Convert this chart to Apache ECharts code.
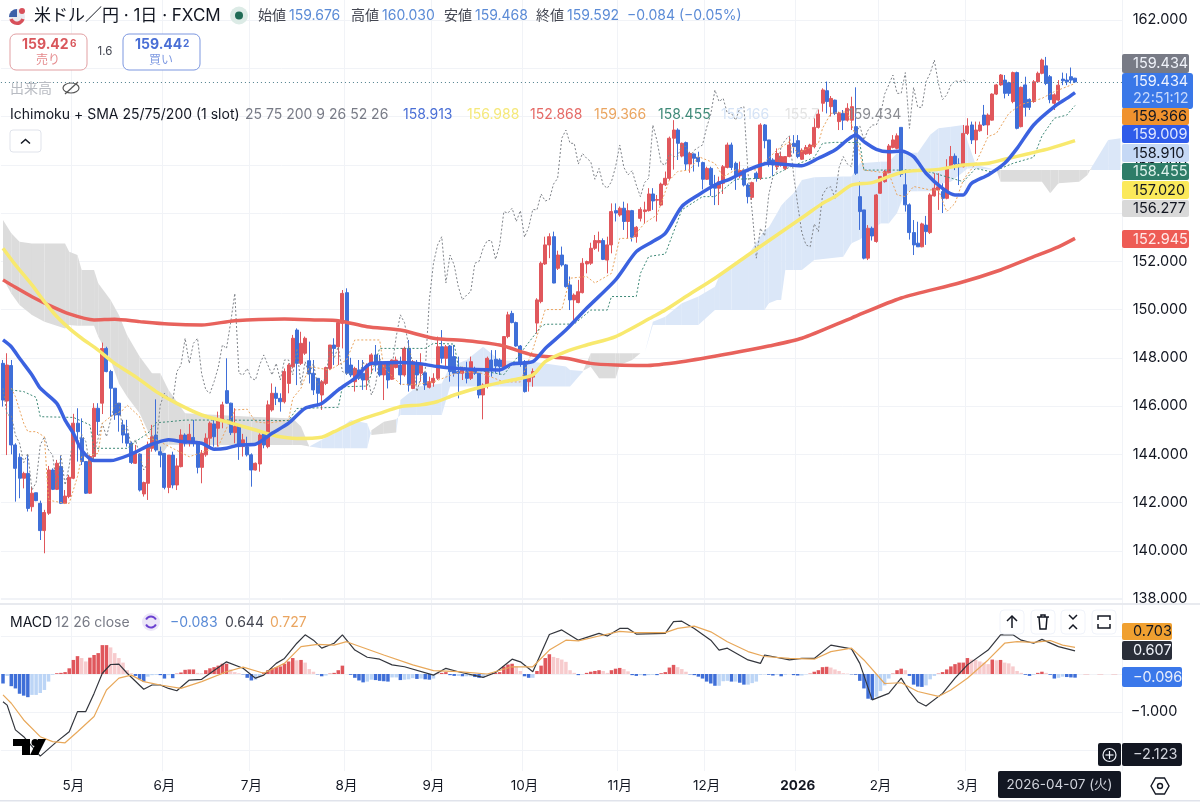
<!DOCTYPE html>
<html>
<head>
<meta charset="utf-8">
<title>米ドル／円</title>
<script src="https://cdn.jsdelivr.net/npm/echarts@6/dist/echarts.min.js"></script>
<style>
html,body{margin:0;padding:0;background:#fff;}
#main{width:1200px;height:803px;}
</style>
</head>
<body>
<div id="main"></div>
<script>
// 日足 (読み取り値)
var opens = [147.77,146.21,147.68,144.39,143.88,143.01,143.21,141.83,142.41,141.97,
140.84,141.56,143.35,142.55,143.49,141.97,142.25,143.01,145.29,144.67,
143.70,142.39,143.91,145.91,146.12,148.39,147.43,146.74,146.12,145.22,
144.85,144.46,143.63,144.01,142.36,142.80,144.25,144.80,144.11,144.04,
142.63,143.97,142.73,143.49,144.80,144.53,144.70,144.53,143.46,143.98,
144.67,145.26,145.08,145.43,146.64,146.12,144.90,145.18,144.32,144.32,
143.98,143.35,143.60,144.87,144.32,145.84,146.53,146.32,146.18,146.94,
147.63,149.15,147.77,148.19,147.88,147.36,147.15,146.46,146.94,147.56,
148.53,148.46,149.43,150.70,147.70,147.01,147.5,147.36,147.08,147.70,
148.12,147.84,147.29,147.77,147.11,147.6,147.70,147.29,148.39,146.73,
147.77,147.36,147.38,146.78,146.97,147.15,148.46,147.98,148.49,148.05,
147.43,147.36,147.43,147.15,147.56,147.36,146.46,146.87,147.91,147.94,
147.91,147.56,148.88,149.84,149.46,148.49,147.84,147.01,147.2,149.44,
150.33,151.89,152.68,153.02,151.71,152.26,151.85,151.02,150.4,150.29,
150.7,151.89,151.92,152.54,152.77,152.86,152.05,152.68,154.1,153.92,
154.2,153.65,154.1,153.02,153.78,154.06,154.1,154.79,154.53,154.33,
155.17,155.44,157.1,157.44,156.36,156.92,156.03,156.45,156.31,156.09,
155.4,155.85,155.16,155.03,155.23,155.89,156.82,156.06,155.54,155.78,
155.16,154.65,155.65,155.44,157.65,157.03,156.2,155.92,155.99,155.85,
156.34,156.89,157.0,156.23,156.45,156.47,156.75,157.55,158.55,159.07,
158.41,158.68,157.79,158.13,157.85,157.85,157.58,154.68,154.13,152.13,
153.37,152.82,154.82,155.3,155.67,156.72,156.68,157.55,155.17,154.34,
153.19,152.75,152.6,153.5,153.19,154.71,154.95,154.89,154.61,155.89,
156.36,156.03,155.92,157.3,157.65,157.03,157.41,158.06,157.65,157.85,
158.93,159.31,159.51,159.4,158.62,159.82,157.58,159.31,158.71,158.62,
159.44,159.79,160.1,159.65,158.55,158.68,159.55,159.51,159.65,159.59];
var highs = [147.91,148.19,147.91,144.46,144.04,143.28,143.97,142.66,142.41,142.08,
141.70,143.52,143.42,143.77,143.93,142.52,143.15,145.68,145.91,145.49,
143.70,143.97,146.12,146.12,148.63,148.46,147.50,146.74,146.12,145.43,
145.43,144.53,144.39,144.04,142.87,144.53,145.22,146.28,144.32,144.04,
143.97,144.11,143.84,145.04,144.87,145.26,145.43,144.53,144.18,144.87,
145.36,145.43,145.77,146.18,147.98,146.14,145.91,145.22,144.85,144.73,
144.04,143.66,144.87,144.94,146.23,146.94,146.8,146.53,147.56,147.77,
148.95,149.22,149.08,148.88,148.67,147.91,147.15,147.08,147.63,148.53,
148.81,149.5,150.81,150.88,148.0,147.63,147.91,147.91,147.77,148.19,
148.53,148.12,147.84,147.84,147.94,148.05,148.05,148.46,148.74,147.91,
147.91,148.19,147.43,147.22,147.36,148.88,149.15,148.53,148.53,148.53,
148.05,147.63,147.84,148.05,147.63,147.36,146.94,148.05,148.32,148.32,
147.98,148.9,149.91,149.95,149.5,148.53,147.91,147.29,147.56,150.47,
151.99,153.02,153.16,153.23,152.44,152.61,151.89,151.37,150.67,151.23,
152.13,152.03,152.77,153.09,153.23,152.95,153.02,154.4,154.4,154.27,
154.47,154.4,154.13,153.46,154.24,154.47,155.03,155.03,154.75,155.26,
155.72,157.17,157.85,157.51,156.92,156.96,156.54,156.47,156.54,156.13,
155.92,155.92,155.58,155.51,155.99,156.92,156.92,156.13,156.13,155.85,
155.23,155.3,155.72,157.72,157.69,157.03,156.27,156.68,156.54,156.36,
157.17,157.23,157.23,156.68,156.82,156.87,157.93,158.3,159.17,159.45,
158.85,158.7,158.2,158.27,158.55,158.82,159.21,155.3,154.13,153.5,
153.44,154.79,155.54,155.79,156.86,157.23,157.3,157.55,155.8,154.4,
153.71,153.64,153.6,153.88,154.82,155.65,155.65,155.23,156.23,156.78,
156.47,156.27,157.65,157.93,157.79,157.79,157.79,158.48,158.13,158.96,
159.35,159.76,159.72,159.44,159.86,159.86,159.24,159.65,158.75,159.51,
159.86,160.4,160.47,159.72,158.96,159.51,159.82,159.79,160.03,159.6];
var lows = [145.98,143.97,144.0,142.04,142.18,142.59,141.63,141.63,142.06,140.45,
139.90,141.49,142.52,142.52,141.94,141.94,142.18,142.97,143.70,143.56,
142.36,142.36,143.70,144.80,145.67,147.40,145.56,145.43,144.94,144.46,
144.32,143.60,143.60,142.46,142.25,142.11,144.11,144.11,143.46,142.55,
142.39,142.59,142.52,143.46,144.32,144.32,144.32,143.21,142.80,143.90,
144.32,144.32,144.32,145.08,146.09,144.80,144.46,143.77,143.91,143.91,
142.66,143.33,143.28,144.25,144.25,145.77,146.04,145.77,146.11,146.53,
147.56,146.87,147.70,148.12,146.94,146.46,145.98,145.84,146.87,147.50,
147.70,147.70,148.39,147.29,147.2,146.60,147.08,146.67,146.67,147.36,
147.43,147.22,146.25,146.73,147.08,147.56,146.87,147.22,146.60,146.70,
146.87,147.01,146.67,146.73,146.8,147.08,147.77,147.56,147.01,147.22,
146.32,147.08,146.94,147.08,147.29,146.32,145.45,146.73,147.22,147.36,
147.29,147.5,148.81,149.43,148.46,147.63,146.56,146.60,146.8,149.0,
150.26,151.85,152.13,151.09,151.64,151.78,150.91,149.98,149.43,150.26,
150.67,151.5,151.85,152.47,152.4,152.05,151.5,152.33,153.65,153.85,
153.3,152.95,152.82,152.77,153.65,153.57,154.06,154.13,153.65,154.29,
155.12,155.37,155.8,156.2,156.31,155.78,155.67,155.72,155.92,154.98,
155.37,154.71,154.33,154.33,154.79,155.85,155.78,154.96,155.44,155.1,
154.4,154.54,155.3,155.37,156.68,155.92,155.54,155.78,155.92,155.78,
156.31,156.47,156.27,156.2,156.41,156.41,156.68,157.5,158.2,158.13,
158.0,158.06,157.44,157.44,157.79,157.44,155.58,153.3,152.08,152.05,
152.86,152.77,154.79,155.26,155.65,156.68,156.64,155.5,154.06,152.9,
152.26,152.6,152.58,152.68,153.13,154.68,154.13,154.0,154.57,155.85,
155.78,155.16,155.89,157.23,156.86,156.45,157.37,157.61,157.23,157.83,
158.89,159.27,158.75,158.85,158.55,157.47,157.55,158.0,158.27,158.57,
159.4,159.75,159.3,158.55,158.27,158.62,159.3,159.3,159.37,159.39];
var closes = [146.25,147.70,144.39,143.42,143.01,143.21,141.76,142.39,142.08,140.84,
141.59,143.35,142.55,143.63,141.97,142.27,143.05,145.29,144.94,143.70,
142.39,143.91,145.91,145.36,148.39,147.43,146.74,145.63,145.63,144.80,
144.46,143.66,144.04,142.52,142.83,144.39,144.73,144.18,143.97,142.63,
143.97,142.73,143.52,144.80,144.46,144.83,144.53,143.46,144.04,144.67,
145.29,144.73,145.43,146.05,146.12,144.90,145.15,144.32,144.60,143.98,
143.35,143.63,144.80,144.39,146.05,146.53,146.32,146.18,147.43,147.70,
148.81,147.77,148.6,148.81,147.33,146.67,146.53,147.01,147.60,148.53,
148.39,149.46,150.67,147.36,147.29,147.56,147.15,147.08,147.7,148.12,
147.70,147.29,147.77,147.08,147.91,147.91,147.29,148.39,146.87,147.84,
147.29,147.77,146.87,147.01,147.15,148.46,147.98,148.46,147.43,147.36,
147.36,147.56,147.15,147.84,147.36,146.46,146.87,147.98,147.56,147.66,
147.63,148.88,149.78,149.46,148.49,147.77,146.60,147.24,147.43,150.4,
151.92,152.68,153.02,151.1,152.26,151.85,150.95,150.4,150.6,150.74,
151.92,151.99,152.54,152.86,152.86,152.08,152.68,154.06,154.0,154.2,
153.65,154.1,153.0,153.41,154.15,154.13,154.79,154.5,154.56,155.2,
155.44,157.1,157.44,156.89,156.89,156.03,156.47,156.27,156.13,155.4,
155.85,155.16,155.03,155.3,155.92,156.82,155.89,155.58,155.76,155.16,
154.68,155.26,155.44,157.65,157.0,156.06,155.99,156.47,156.34,156.34,
156.82,156.75,156.34,156.6,156.72,156.82,157.55,158.1,159.1,158.62,
158.75,158.13,158.13,157.85,158.34,158.41,155.65,154.06,152.13,153.37,
153.05,154.75,155.51,155.72,156.78,157.03,157.2,155.6,154.34,153.19,
152.68,152.6,153.55,153.23,154.75,155.03,155.09,154.61,155.89,156.34,
156.03,155.92,157.3,157.61,157.03,157.44,157.65,157.65,158.06,158.93,
159.31,159.72,158.96,158.96,159.82,157.51,159.21,158.38,158.38,159.44,
159.79,160.34,159.37,158.7,158.9,159.3,159.48,159.44,159.51,159.434];

// SMA [足番号, 価格]
var sma25 = [[0,148.74],[2,148.46],[4,147.98],[7,147.29],[9,146.74],[13,146.11],[15,145.42],[17,144.87],[19,144.18],[22,143.74],[26,143.74],[31,144.01],[35,144.35],[37,144.48],[40,144.6],[43,144.53],[48,144.46],[51,144.21],[54,144.25],[57,144.39],[61,144.42],[65,144.87],[69,145.29],[73,145.91],[77,146.11],[81,146.67],[85,147.15],[89,147.77],[96,147.81],[100,147.77],[105,147.64],[109,147.57],[114,147.52],[120,147.5],[123,147.75],[128,147.84],[131,148.39],[136,149.15],[141,150.05],[148,151.23],[153,152.4],[157,152.82],[160,153.16],[164,154.27],[168,154.75],[172,155.16],[176,155.44],[180,155.79],[185,156.06],[193,155.96],[197,156.27],[201,156.61],[204,157.03],[206,157.23],[208,156.96],[211,156.64],[214,156.54],[217,156.57],[220,156.34],[223,155.65],[227,155.02],[230,154.75],[232,154.75],[234,155.23],[238,155.58],[242,156.06],[245,156.68],[249,157.65],[254,158.41],[257,158.75],[259,158.99]];
var sma75 = [[0,152.54],[3,151.85],[7,151.02],[10,150.33],[13,149.71],[16,149.22],[19,148.81],[23,148.32],[27,147.77],[32,147.22],[37,146.6],[42,146.11],[48,145.63],[54,145.35],[61,145.01],[66,144.76],[71,144.66],[77,144.71],[80,144.94],[85,145.35],[91,145.7],[96,145.97],[101,146.05],[105,146.19],[109,146.46],[116,146.81],[123,147.08],[128,147.29],[131,147.84],[136,148.26],[141,148.53],[148,148.88],[157,149.7],[160,149.98],[165,150.54],[172,151.3],[180,152.26],[187,153.09],[194,153.92],[198,154.4],[201,154.68],[205,155.16],[210,155.26],[214,155.51],[218,155.72],[226,155.81],[232,155.99],[238,156.06],[242,156.23],[248,156.47],[253,156.68],[259,157.0]];
var sma200 = [[0,151.23],[3,150.92],[7,150.53],[11,150.19],[16,149.82],[22,149.57],[27,149.6],[33,149.5],[40,149.4],[48,149.36],[56,149.54],[68,149.61],[76,149.57],[81,149.54],[88,149.29],[96,149.15],[104,148.81],[112,148.71],[120,148.53],[128,148.12],[136,147.98],[142,147.77],[148,147.7],[155,147.68],[164,147.84],[176,148.19],[185,148.49],[193,148.81],[205,149.65],[217,150.48],[231,151.1],[241,151.64],[248,152.12],[255,152.6],[259,152.95]];

// 一目均衡表
var tenkan = [[2,146.74],[3,146.39],[5,145.29],[6,144.94],[8,144.94],[10,144.73],[11,142.1],[15,141.97],[16,141.97],[18,143.08],[19,143.9],[23,144.04],[24,145.29],[26,145.56],[29,145.84],[30,146.04],[33,145.56],[35,144.66],[37,144.6],[41,144.25],[45,143.9],[51,144.25],[52,144.32],[56,145.84],[59,145.87],[61,145.35],[64,145.29],[69,145.42],[70,146.32],[72,146.74],[74,147.63],[79,147.5],[83,147.91],[85,148.74],[91,148.74],[92,147.6],[96,146.9],[100,146.9],[104,147.0],[110,147.4],[115,147.4],[121,147.0],[125,147.0],[128,148.34],[131,150.0],[135,150.0],[137,151.3],[141,151.37],[143,151.1],[147,151.5],[149,152.95],[152,152.95],[155,153.58],[158,153.92],[161,155.37],[163,155.72],[166,155.79],[168,156.34],[172,156.06],[174,155.5],[177,155.79],[182,155.79],[187,156.61],[190,156.96],[192,156.47],[197,156.89],[198,157.51],[200,158.13],[204,158.2],[206,157.17],[208,155.78],[214,155.65],[216,154.75],[218,154.68],[220,155.1],[224,154.96],[226,154.96],[228,154.06],[230,154.4],[232,155.37],[235,156.06],[238,157.17],[240,157.3],[243,158.13],[246,158.5],[251,158.75],[254,159.03],[259,159.37]];
var kijun = [[2,146.67],[5,146.6],[8,146.36],[9,145.56],[17,145.53],[21,145.22],[22,144.25],[30,144.25],[32,144.53],[35,144.87],[37,145.31],[40,145.35],[44,145.42],[54,145.42],[69,145.4],[71,145.9],[81,145.95],[82,146.8],[88,146.83],[91,148.39],[102,148.39],[104,148.6],[109,148.57],[110,147.63],[121,147.3],[130,149.3],[131,149.39],[138,149.4],[142,149.98],[146,149.98],[147,150.54],[153,150.54],[154,151.5],[156,152.2],[160,152.3],[164,154.13],[169,154.68],[172,154.68],[177,155.4],[185,155.45],[190,155.9],[196,156.3],[198,156.89],[201,156.93],[207,156.92],[208,155.78],[222,155.78],[225,155.65],[232,155.3],[235,155.85],[239,155.7],[244,156.06],[249,156.31],[251,157.19],[254,157.93],[257,158.06],[259,158.455]];
// 遅行スパンは終値を26本前へずらしたもの
var chikou = closes.slice(26);

// 雲 (足番号, 先行A, 先行B)
var cloudIdx = [0,2,4,7,10,15,16,18,19,22,23,26,28,30,33,36,38,40,44,60,70,72,74,77,80,82,84,88,89,92,95,96,100,106,108,112,116,120,128,136,137,140,142,144,148,149,152,154,155,157,160,164,168,172,173,176,180,184,185,187,188,189,191,193,196,203,205,207,212,214,216,218,221,224,226,229,232,233,235,240,241,251,253,255,260,262,263,267,270];
var cloudA = [151.29,150.67,150.19,149.77,149.5,149.22,149.36,149.33,149.33,149.33,148.88,147.91,146.94,146.39,145.7,144.6,143.9,144.4,144.39,144.39,144.39,144.39,144.32,144.6,144.87,145.15,145.42,145.29,144.8,144.85,144.9,146.25,146.8,146.94,147.64,147.91,148.46,147.9,147.84,147.64,147.5,147.45,147.63,147.15,147.15,147.7,147.91,148.19,148.19,149.5,149.7,150.26,150.54,150.95,151.37,151.78,152.26,153.3,153.4,153.99,154.3,154.5,154.82,155.37,155.48,155.51,155.51,156.06,156.13,156.13,156.48,156.5,156.5,157.24,157.51,157.58,157.65,157.0,156.0,155.78,155.3,155.3,154.82,155.23,155.3,155.58,155.9,157.03,157.1];
var cloudB = [153.71,153.16,152.81,152.74,152.74,152.74,152.4,152.26,151.64,151.64,151.09,150.4,149.77,148.94,148.05,147.36,147.36,146.67,145.7,145.56,145.49,145.15,144.32,144.25,144.25,144.25,144.25,144.25,145.0,145.35,145.45,145.63,145.63,145.63,146.81,146.81,146.81,146.81,146.81,146.81,146.81,147.4,148.19,148.19,148.19,148.19,148.19,148.19,148.19,149.36,149.36,149.36,149.36,149.98,149.98,149.98,149.98,149.98,150.26,150.4,150.4,151.64,151.64,151.64,152.05,152.19,152.75,152.9,153.57,153.57,154.0,154.9,154.9,154.9,155.2,155.3,155.7,155.85,155.85,155.78,155.78,155.78,155.78,155.78,155.78,155.78,155.78,155.78,155.78];

// MACD [足番号, 値]
var macdLine = [[0,-0.73],[1,-0.82],[3,-1.47],[5,-1.65],[9,-2.16],[13,-1.78],[16,-1.52],[18,-0.99],[20,-0.99],[22,-0.51],[24,0.02],[26,0.25],[28,0.26],[30,0.02],[34,-0.40],[36,-0.29],[38,-0.29],[40,-0.38],[42,-0.44],[45,-0.16],[48,-0.14],[54,0.32],[58,0.15],[61,-0.11],[63,-0.03],[66,0.28],[68,0.41],[71,0.81],[73,1.03],[75,0.89],[77,0.68],[80,0.81],[82,1.03],[85,0.63],[88,0.44],[91,0.39],[94,0.24],[97,0.19],[104,-0.03],[107,0.15],[110,0.06],[116,-0.09],[119,0.04],[123,0.39],[125,0.32],[128,0.06],[132,1.04],[135,1.16],[139,0.89],[144,1.07],[146,1.0],[149,1.2],[151,1.2],[153,1.05],[160,1.07],[162,1.38],[164,1.39],[167,1.2],[171,0.89],[173,0.63],[175,0.68],[180,0.37],[183,0.28],[184,0.5],[190,0.37],[193,0.41],[196,0.41],[200,0.76],[205,0.66],[207,0.28],[210,-0.68],[214,-0.51],[217,-0.11],[219,-0.46],[221,-0.73],[223,-0.84],[227,-0.51],[230,-0.11],[233,0.24],[238,0.63],[241,1.03],[244,1.03],[246,0.89],[249,0.81],[251,0.91],[255,0.72],[259,0.607]];
var macdSignal = [[0,-0.55],[2,-0.77],[5,-1.21],[9,-1.65],[12,-1.78],[15,-1.81],[18,-1.52],[22,-1.12],[25,-0.42],[28,-0.11],[31,-0.03],[34,-0.20],[38,-0.29],[43,-0.38],[48,-0.20],[54,0.06],[58,0.18],[63,0.02],[68,0.28],[72,0.72],[76,0.78],[80,0.76],[83,0.85],[92,0.50],[99,0.24],[104,0.09],[110,0.06],[117,0.0],[123,0.19],[128,0.19],[132,0.63],[136,0.89],[139,0.87],[144,1.0],[149,1.12],[153,1.09],[160,1.09],[163,1.2],[167,1.26],[171,1.11],[175,0.85],[180,0.59],[184,0.46],[190,0.41],[196,0.39],[200,0.59],[205,0.68],[208,0.37],[213,-0.25],[217,-0.23],[221,-0.46],[226,-0.59],[229,-0.42],[233,-0.11],[238,0.37],[242,0.81],[245,0.85],[249,0.83],[253,0.88],[256,0.76],[259,0.703]];
var macdHist = [-0.25,-0.05,-0.32,-0.38,-0.52,-0.57,-0.61,-0.55,-0.55,-0.5,-0.42,-0.2,-0.02,0.02,0.03,0.05,0.15,0.37,0.47,0.42,
0.33,0.43,0.5,0.55,0.76,0.76,0.7,0.55,0.42,0.3,0.1,0.02,-0.05,-0.14,-0.2,-0.07,-0.03,-0.02,-0.03,-0.12,
-0.03,-0.11,0.01,0.04,0.11,0.12,0.12,0.03,0.02,0.1,0.15,0.18,0.22,0.27,0.27,0.12,0.05,0.02,-0.01,-0.1,
-0.17,-0.15,-0.08,0.04,0.1,0.15,0.18,0.2,0.27,0.33,0.42,0.36,0.37,0.3,0.13,0.06,-0.01,-0.06,-0.04,0.01,
0.03,0.1,0.22,0.0,-0.02,-0.1,-0.17,-0.22,-0.2,-0.15,-0.16,-0.18,-0.19,-0.2,-0.09,-0.09,-0.16,-0.15,-0.14,-0.11,
-0.13,-0.12,-0.14,-0.15,-0.12,0.01,0.03,0.05,-0.03,-0.05,-0.05,-0.06,-0.06,-0.06,-0.08,-0.1,-0.09,-0.02,0.01,0.03,
0.05,0.2,0.25,0.27,0.2,0.08,-0.06,-0.1,-0.1,0.08,0.22,0.42,0.52,0.45,0.42,0.38,0.32,0.1,0.03,-0.03,
-0.01,0.03,0.06,0.08,0.1,0.08,0.03,0.1,0.14,0.16,0.13,0.07,-0.03,-0.05,-0.03,-0.04,-0.03,-0.02,-0.03,0.02,
0.05,0.17,0.24,0.18,0.13,0.06,-0.01,-0.03,-0.07,-0.12,-0.2,-0.25,-0.31,-0.31,-0.19,-0.18,-0.2,-0.2,-0.23,-0.28,
-0.28,-0.24,-0.2,-0.02,-0.01,-0.02,-0.04,-0.02,-0.06,-0.02,0.0,-0.03,-0.04,-0.04,-0.01,0.01,0.06,0.1,0.18,0.19,
0.17,0.12,0.08,0.02,0.01,-0.01,-0.02,-0.18,-0.38,-0.65,-0.68,-0.6,-0.45,-0.3,-0.12,0.01,0.1,0.14,0.1,-0.05,
-0.28,-0.33,-0.34,-0.3,-0.14,-0.05,0.01,0.05,0.12,0.2,0.26,0.3,0.3,0.42,0.38,0.37,0.33,0.3,0.26,0.38,
0.36,0.37,0.3,0.28,0.2,0.08,0.03,-0.02,-0.05,-0.02,0.03,0.06,0.03,-0.02,-0.12,-0.1,-0.07,-0.08,-0.09,-0.096];

// 軸ラベル
var barCount = 271;
var monthLabels = {17:'5月',39:'6月',60:'7月',83:'8月',104:'9月',126:'10月',149:'11月',170:'12月',192:'2026',212:'2月',233:'3月'};

var categories = [];
for (var n = 0; n < barCount; n++) {
    categories.push(monthLabels[n] || '');
}

var RED = '#e0575c', BLUE = '#3f6fd8', FONT = 'Inter, "Noto Sans CJK JP", sans-serif';

var candleData = opens.map(function (o, i) {
    return [o, closes[i], lows[i], highs[i]];
});
var cloudData = cloudIdx.map(function (x, i) {
    return [x, cloudA[i], cloudB[i]];
});
var chikouData = chikou.map(function (v, i) {
    return [i, v];
});
var histData = macdHist.map(function (v, i) {
    var prev = i > 0 ? macdHist[i - 1] : 0;
    var c = v >= 0 ? (v >= prev ? '#e0575c' : '#f7cbcd') : (v < prev ? '#3f6fd8' : '#bcd5f6');
    return { value: v, itemStyle: { color: c } };
});

function renderCloud(params, api) {
    var i = params.dataIndex;
    if (i >= cloudIdx.length - 1) return;
    var p = [
        api.coord([cloudIdx[i], cloudA[i]]),
        api.coord([cloudIdx[i + 1], cloudA[i + 1]]),
        api.coord([cloudIdx[i + 1], cloudB[i + 1]]),
        api.coord([cloudIdx[i], cloudB[i]])
    ];
    var bullish = cloudA[i] + cloudA[i + 1] > cloudB[i] + cloudB[i + 1];
    return { type: 'polygon', shape: { points: p }, style: { fill: bullish ? '#dbe7f8' : '#dcdcdc' } };
}

function thinLine(name, data, color) {
    return {
        name: name, type: 'line', data: data, showSymbol: false, silent: true, z: 3,
        lineStyle: { color: color, width: 1, type: [2, 2] }
    };
}
function smaLine(name, data, color) {
    return {
        name: name, type: 'line', data: data, showSymbol: false, silent: true, smooth: 0.25, z: 4,
        lineStyle: { color: color, width: 3.5 }
    };
}

// 画面パーツ
function txt(x, y, s, color, size, align, weight) {
    return {
        type: 'text', x: x, y: y, z: 21, silent: true,
        style: {
            text: s, fill: color, textAlign: align || 'left', textVerticalAlign: 'middle',
            align: align || 'left', verticalAlign: 'middle',
            font: (weight || 'normal') + ' ' + size + 'px ' + FONT
        }
    };
}
function box(x, y, w, h, fill, stroke, r) {
    return {
        type: 'rect', z: 20, silent: true, shape: { x: x, y: y, width: w, height: h, r: r === undefined ? 2 : r },
        style: { fill: fill, stroke: stroke || null, lineWidth: 1 }
    };
}
function poly(points, color, w) {
    return { type: 'polyline', z: 21, silent: true, shape: { points: points }, style: { stroke: color, fill: null, lineWidth: w || 1.5 } };
}
function pill(y, h, w, fill, s, color) {
    return [box(1122, y, w, h, fill), txt(1133, y + h / 2 + 0.5, s, color, 14.5)];
}

var g = [];
g.push(box(0, 771, 1200, 29, '#fff', null, 0)); g[0].z = 3;
g.push({ type: 'rect', z: 4, silent: true, shape: { x: 0, y: 603, width: 1200, height: 2 }, style: { fill: '#e8eaef' } });
g.push({ type: 'rect', z: 4, silent: true, shape: { x: 0, y: 800, width: 1200, height: 1.5 }, style: { fill: '#e0e3eb' } });

// タイトル行
g.push({ type: 'circle', z: 20, silent: true, shape: { cx: 17, cy: 17, r: 8 }, style: { fill: '#e9e9ef' } });
g.push({ type: 'sector', z: 20, silent: true, shape: { cx: 17, cy: 17, r: 8, r0: 0, startAngle: Math.PI, endAngle: Math.PI * 1.5 }, style: { fill: '#3c5fa8' } });
g.push({ type: 'sector', z: 20, silent: true, shape: { cx: 17, cy: 17, r: 8, r0: 4.5, startAngle: 0.1 * Math.PI, endAngle: 0.9 * Math.PI }, style: { fill: '#d8505a' } });
g.push({ type: 'circle', z: 21, silent: true, shape: { cx: 22, cy: 11, r: 3 }, style: { fill: '#d8505a' } });
g.push(txt(34, 15.5, '米ドル／円 · 1日 · FXCM', '#131722', 17));
g.push({ type: 'circle', z: 20, silent: true, shape: { cx: 239, cy: 15.5, r: 9 }, style: { fill: '#dcebe6' } });
g.push({ type: 'circle', z: 21, silent: true, shape: { cx: 239, cy: 15.5, r: 4 }, style: { fill: '#1f6b55' } });
var ohlcHead = [[258, '始値', 289, '159.676'], [351, '高値', 382, '160.030'], [444, '安値', 475, '159.468'], [536, '終値', 567, '159.592']];
ohlcHead.forEach(function (h) {
    g.push(txt(h[0], 15.5, h[1], '#434651', 14));
    g.push(txt(h[2], 15.5, h[3], '#5b8bd6', 14));
});
g.push(txt(627, 15.5, '−0.084 (−0.05%)', '#5b8bd6', 14));

// 売り買いボタン
g.push(box(10, 34, 77, 36, '#fff', '#e2a0a3', 6));
g.push(txt(22, 45, '159.42', '#d9575c', 14, 'left', 'bold'));
g.push(txt(70, 44, '6', '#d9575c', 10, 'left', 'bold'));
g.push(txt(48, 60, '売り', '#e58a8d', 12, 'center'));
g.push(txt(105, 52, '1.6', '#434651', 11.5, 'center'));
g.push(box(123, 34, 77, 36, '#fff', '#7c97e0', 6));
g.push(txt(135, 45, '159.44', '#4a6fd6', 14, 'left', 'bold'));
g.push(txt(183, 44, '2', '#4a6fd6', 10, 'left', 'bold'));
g.push(txt(161, 60, '買い', '#7f9ae2', 12, 'center'));

// 出来高とインジケータ名
g.push(txt(10, 89, '出来高', '#b8bbc2', 14));
g.push({ type: 'ellipse', z: 21, silent: true, shape: { cx: 71, cy: 88, rx: 8, ry: 5 }, style: { fill: null, stroke: '#555', lineWidth: 1.2 } });
g.push(poly([[65, 94], [78, 82]], '#555', 1.2));
g.push(txt(10, 114.5, 'Ichimoku + SMA 25/75/200 (1 slot)', '#131722', 14));
g.push(txt(245, 114.5, '25 75 200 9 26 52 26', '#787b86', 14));
var ichiHead = [[403, '158.913', '#4a6fd6'], [467, '156.988', '#f5e87a'], [530, '152.868', '#e56a66'], [594, '159.366', '#eaa560'], [658, '158.455', '#3f8a78'], [721, '155.166', '#d5e3f6'], [785, '155.7', '#e3e3e3'], [848, '159.434', '#8a8c92']];
ichiHead.forEach(function (h) {
    g.push(txt(h[0], 114.5, h[1], h[2], 14));
});
g.push(box(10, 130, 31, 22, '#fff', '#e0e3eb', 3));
g.push(poly([[21, 143.5], [25.5, 139.5], [30, 143.5]], '#131722', 1.5));

// MACD 見出し
g.push(txt(10, 622.5, 'MACD', '#131722', 14));
g.push(txt(55, 622.5, '12 26 close', '#787b86', 14));
g.push({ type: 'circle', z: 20, silent: true, shape: { cx: 151, cy: 622, r: 9 }, style: { fill: '#ece6f8' } });
g.push({ type: 'arc', z: 21, silent: true, shape: { cx: 151, cy: 622, r: 5.5, startAngle: 0.15 * Math.PI, endAngle: 0.85 * Math.PI }, style: { stroke: '#6a3fd0', fill: null, lineWidth: 2 } });
g.push({ type: 'arc', z: 21, silent: true, shape: { cx: 151, cy: 622, r: 5.5, startAngle: 1.15 * Math.PI, endAngle: 1.85 * Math.PI }, style: { stroke: '#6a3fd0', fill: null, lineWidth: 2 } });
g.push(txt(170, 622.5, '−0.083', '#5b8bd6', 14));
g.push(txt(225, 622.5, '0.644', '#434651', 14));
g.push(txt(270, 622.5, '0.727', '#eaa560', 14));

// 右上の小さいボタン
[1012, 1043, 1073, 1104].forEach(function (cx) {
    g.push(box(cx - 12, 610, 24, 24, '#fff', '#f0f3fa', 4));
});
g.push(poly([[1012, 628], [1012, 616]], '#131722'));
g.push(poly([[1007, 621], [1012, 616], [1017, 621]], '#131722'));
g.push(poly([[1037, 617], [1049, 617]], '#131722'));
g.push(poly([[1039, 617], [1040, 629], [1046, 629], [1047, 617]], '#131722'));
g.push(poly([[1041, 617], [1041, 615], [1045, 615], [1045, 617]], '#131722'));
g.push(poly([[1069, 615], [1073, 619], [1077, 615]], '#131722'));
g.push(poly([[1069, 629], [1073, 625], [1077, 629]], '#131722'));
g.push(poly([[1098, 620], [1098, 616], [1110, 616], [1110, 620]], '#131722'));
g.push(poly([[1098, 624], [1098, 628], [1110, 628], [1110, 624]], '#131722'));

// 価格ラベル
g = g.concat(pill(54, 19, 67, '#787b86', '159.434', '#f0f3fa'));
g.push(box(1122, 73, 71, 36, '#3a78e8', null, 3));
g.push(txt(1133, 82, '159.434', '#eef3ff', 14.5));
g.push(txt(1133, 98.5, '22:51:12', '#c9dafb', 14.5));
g = g.concat(pill(108, 17, 67, '#f0922e', '159.366', '#131722'));
g = g.concat(pill(125, 18, 67, '#2f5bea', '159.009', '#dfe7ff'));
g = g.concat(pill(144, 18, 67, '#c5d8f5', '158.910', '#131722'));
g = g.concat(pill(163, 17, 67, '#2e7d68', '158.455', '#dff2ec'));
g = g.concat(pill(181, 18, 67, '#fbe95a', '157.020', '#131722'));
g = g.concat(pill(200, 17, 67, '#d9d9d9', '156.277', '#131722'));
g = g.concat(pill(230, 18, 67, '#ee5c55', '152.945', '#ffe9e8'));

// MACD ラベル
g = g.concat(pill(623, 17, 50, '#f0a030', '0.703', '#131722'));
g = g.concat(pill(641, 19, 50, '#2a2e39', '0.607', '#f0f3fa'));
g = g.concat(pill(667, 20, 60, '#3b78ea', '−0.096', '#e8eefc'));
g = g.concat(pill(743, 23, 60, '#131722', '−2.123', '#d1d4dc'));
g.push(box(1098, 743, 23, 23, '#131722', null, 2));
g.push({ type: 'circle', z: 21, silent: true, shape: { cx: 1109.5, cy: 755, r: 6.5 }, style: { fill: null, stroke: '#f0f3fa', lineWidth: 1.2 } });
g.push(poly([[1109.5, 751], [1109.5, 759]], '#f0f3fa', 1.2));
g.push(poly([[1105.5, 755], [1113.5, 755]], '#f0f3fa', 1.2));

// 日付
g.push(box(998, 771, 123, 27, '#131722', null, 2));
g.push(txt(1059.5, 785, '2026-04-07 (火)', '#d1d4dc', 13.5, 'center'));
g.push({ type: 'polygon', z: 21, silent: true, shape: { points: [[1151, 786], [1155.5, 778], [1164.5, 778], [1169, 786], [1164.5, 794], [1155.5, 794]] }, style: { fill: null, stroke: '#131722', lineWidth: 1.4 } });
g.push({ type: 'circle', z: 21, silent: true, shape: { cx: 1160, cy: 786, r: 2.5 }, style: { fill: null, stroke: '#131722', lineWidth: 1.4 } });

// ロゴ
g.push({ type: 'polygon', z: 21, silent: true, shape: { points: [[13, 739], [30, 739], [30, 755], [22, 755], [22, 746], [13, 746]] }, style: { fill: '#000' } });
g.push({ type: 'circle', z: 21, silent: true, shape: { cx: 35, cy: 742.5, r: 3.5 }, style: { fill: '#000' } });
g.push({ type: 'polygon', z: 21, silent: true, shape: { points: [[38, 739], [46, 739], [38, 755], [30, 755]] }, style: { fill: '#000' } });

var gridLeft = 0.93, gridWidth = 1121.7;
var myChart = echarts.init(document.getElementById('main'), null, { renderer: 'canvas' });
var gridLine = { show: true, lineStyle: { color: '#f1f3f7', width: 1 } };
var vLine = { show: true, interval: function (i, v) { return v !== ''; }, lineStyle: { color: '#f1f3f7', width: 1 } };

var option = {
    animation: false,
    backgroundColor: '#fff',
    textStyle: { fontFamily: FONT },
    grid: [
        { left: gridLeft, width: gridWidth, top: 20 - 2 * 24.13, height: 26 * 24.13, outerBoundsMode: 'none' },
        { left: gridLeft, width: gridWidth, top: 598, height: 190, outerBoundsMode: 'none' },
        { left: gridLeft, width: gridWidth, top: 771, height: 7, outerBoundsMode: 'none' }
    ],
    xAxis: [
        { type: 'category', gridIndex: 0, data: categories, axisLine: { show: false }, axisTick: { show: false }, axisLabel: { show: false }, splitLine: vLine },
        { type: 'category', gridIndex: 1, data: categories, axisLine: { show: false }, axisTick: { show: false }, axisLabel: { show: false }, splitLine: vLine },
        {
            type: 'category', gridIndex: 2, data: categories, z: 5, axisLine: { show: false }, axisTick: { show: false },
            axisLabel: {
                interval: function (i, v) { return v !== ''; }, margin: 1, color: '#131722', fontSize: 13.5, fontFamily: FONT,
                formatter: function (v) { return v === '2026' ? '{b|2026}' : v; },
                rich: { b: { fontWeight: 'bold', fontSize: 13.5, color: '#131722', fontFamily: FONT } }
            }
        }
    ],
    yAxis: [
        {
            type: 'value', gridIndex: 0, position: 'right', min: 138, max: 164, interval: 2,
            axisLine: { show: false }, axisTick: { show: false }, splitLine: gridLine,
            axisLabel: { margin: 10, color: '#131722', fontSize: 14.5, fontFamily: FONT, formatter: function (v) { return v.toFixed(3); } }
        },
        {
            type: 'value', gridIndex: 1, position: 'right', min: -3, max: 2, interval: 1,
            axisLine: { show: false }, axisTick: { show: false }, splitLine: gridLine,
            axisLabel: {
                margin: 8, color: '#131722', fontSize: 14.5, fontFamily: FONT,
                formatter: function (v) { return v >= 2 || v <= -3 ? '' : v.toFixed(3).replace('-', '−'); }
            }
        },
        { type: 'value', gridIndex: 2, show: false }
    ],
    series: [
        {
            name: 'cloud', type: 'custom', renderItem: renderCloud, data: cloudData, silent: true, z: 1,
            encode: { x: 0, y: [1, 2] }, clip: true
        },
        {
            name: 'USDJPY', type: 'candlestick', data: candleData, barWidth: 3.5, z: 2,
            itemStyle: { color: RED, color0: BLUE, borderColor: RED, borderColor0: BLUE, borderWidth: 1 },
            markLine: {
                silent: true, symbol: 'none', label: { show: false },
                lineStyle: { type: [1, 3], color: '#4f7f8c', width: 1 },
                data: [{ yAxis: closes[closes.length - 1] }]
            }
        },
        thinLine('chikou', chikouData, '#80848a'),
        thinLine('tenkan', tenkan, '#eaa560'),
        thinLine('kijun', kijun, '#3f8a78'),
        smaLine('SMA200', sma200, '#e8625c'),
        smaLine('SMA75', sma75, '#f8e96e'),
        smaLine('SMA25', sma25, '#3b62e0'),
        {
            name: 'hist', type: 'bar', xAxisIndex: 1, yAxisIndex: 1, data: histData, barWidth: 3.5, silent: true, z: 2,
            markLine: {
                silent: true, symbol: 'none', label: { show: false },
                lineStyle: { type: [6, 8], color: '#f2d4d6', width: 1 },
                data: [[{ coord: [261, 0] }, { coord: [270, 0] }]]
            }
        },
        {
            name: 'macd', type: 'line', xAxisIndex: 1, yAxisIndex: 1, data: macdLine, showSymbol: false, silent: true, z: 3,
            lineStyle: { color: '#33363d', width: 1.2 }
        },
        {
            name: 'signal', type: 'line', xAxisIndex: 1, yAxisIndex: 1, data: macdSignal, showSymbol: false, silent: true, z: 3,
            lineStyle: { color: '#e8a85a', width: 1.2 }
        }
    ],
    graphic: { elements: g }
};
myChart.setOption(option);
</script>
</body>
</html>
